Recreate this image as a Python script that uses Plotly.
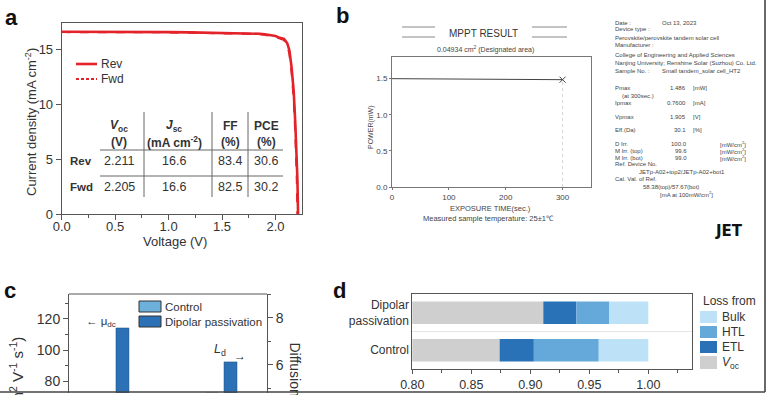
import plotly.graph_objects as go
import numpy as np

W, H = 768, 395
FONT = "Liberation Sans, Arial, sans-serif"


def px(x):
    return x / W


def py(y):
    return 1 - y / H


# ---------------- data ----------------
# (a) J-V curves
jv_voltage_rev = [0, 0.2, 0.4, 0.6, 0.8, 1.0, 1.2, 1.4, 1.6, 1.7, 1.8, 1.85, 1.9, 1.95, 2.0,
                  2.04, 2.08, 2.11, 2.13, 2.15, 2.17, 2.185, 2.197, 2.205, 2.211]
jv_current_rev = [16.60, 16.60, 16.62, 16.60, 16.58, 16.57, 16.55, 16.53, 16.50, 16.48, 16.45,
                  16.42, 16.38, 16.32, 16.22, 16.05, 15.95, 15.55, 14.90, 13.40, 11.20, 8.30,
                  5.60, 3.20, 0.0]
jv_voltage_fwd = [0, 0.2, 0.4, 0.6, 0.8, 1.0, 1.2, 1.4, 1.6, 1.7, 1.8, 1.85, 1.9, 1.95, 2.0,
                  2.04, 2.08, 2.11, 2.13, 2.15, 2.17, 2.185, 2.195, 2.200, 2.205]
jv_current_fwd = [16.58, 16.59, 16.60, 16.59, 16.57, 16.55, 16.53, 16.51, 16.48, 16.45, 16.41,
                  16.38, 16.33, 16.26, 16.15, 15.98, 15.85, 15.40, 14.60, 13.00, 10.60, 7.50,
                  4.90, 3.00, 0.0]
table_header = ["<b><i>V</i></b><b><sub>oc</sub></b>", "<b><i>J</i></b><b><sub>sc</sub></b>",
                "<b>FF</b>", "<b>PCE</b>"]
table_units = ["<b>(V)</b>", "<b>(mA cm<sup>-2</sup>)</b>", "<b>(%)</b>", "<b>(%)</b>"]
table_rows = ["Rev", "Fwd"]
table_rev = ["2.211", "16.6", "83.4", "30.6"]
table_fwd = ["2.205", "16.6", "82.5", "30.2"]

# (b) MPPT
mppt_time = [0, 50, 100, 150, 200, 250, 300]
mppt_power = [1.500, 1.497, 1.494, 1.492, 1.490, 1.488, 1.486]
cert_lines = [
    ("Date :", "Oct 13, 2023"),
    ("Device type :", None),
    ("Perovskite/perovskite tandem solar cell", None),
    ("Manufacturer :", None),
    ("College of Engineering and Applied Sciences", None),
    ("Nanjing University; Renshine Solar (Suzhou) Co. Ltd.", None),
    ("Sample No. :", "Small tandem_solar cell_HT2"),
]
cert_values = [("Pmax", "1.486", "[mW]"), ("Ipmax", "0.7600", "[mA]"),
               ("Vpmax", "1.905", "[V]"), ("Eff.(Da)", "30.1", "[%]")]
cert_irr = [("D Irr.", "100.0"), ("M Irr. (top)", "99.6"), ("M Irr. (bot)", "99.0")]

# (c) mobility / diffusion length
c_categories = ["mu", "Ld"]
mobility_control = [62.0]
mobility_dipolar = [114.2]
diffusion_control = [4.81]
diffusion_dipolar = [6.13]

# (d) QFLS / Voc losses
d_categories = ["Control", "Dipolar<br>passivation"]
voc = [0.874, 0.911]
etl_loss = [0.029, 0.028]
htl_loss = [0.055, 0.028]
bulk_loss = [0.042, 0.033]

# ---------------- styles ----------------
RED = "#e3232a"
C_CTRL = "#6eb0dc"
C_DIP = "#2c70b6"
C_GRAY = "#cfcfcf"
C_ETL = "#2a72b8"
C_HTL = "#64a9d9"
C_BULK = "#bde2f7"
AX = "#555555"
TXT = "#333333"

fig = go.Figure()

# ---- (a)
fig.add_trace(go.Scatter(x=jv_voltage_rev, y=jv_current_rev, mode="lines", name="Rev",
                         line=dict(color=RED, width=2.6), xaxis="x", yaxis="y", showlegend=False))
fig.add_trace(go.Scatter(x=jv_voltage_fwd, y=jv_current_fwd, mode="lines", name="Fwd",
                         line=dict(color=RED, width=2.2, dash="dash"), xaxis="x", yaxis="y",
                         showlegend=False))

# ---- (b)
fig.add_trace(go.Scatter(x=mppt_time, y=mppt_power, mode="lines", line=dict(color="#444", width=1),
                         xaxis="x2", yaxis="y2", showlegend=False))
fig.add_trace(go.Scatter(x=[mppt_time[-1], mppt_time[-1]], y=[0, mppt_power[-1]], mode="lines",
                         line=dict(color="#cccccc", width=0.8, dash="dot"), xaxis="x2", yaxis="y2",
                         showlegend=False))
fig.add_trace(go.Scatter(x=[mppt_time[-1]], y=[mppt_power[-1]], mode="markers",
                         marker=dict(symbol="x-thin", size=6, line=dict(color="#444", width=1)),
                         xaxis="x2", yaxis="y2", showlegend=False))

# ---- (c)
fig.add_trace(go.Bar(x=[c_categories[0]], y=mobility_control, marker=dict(color=C_CTRL, line=dict(color="#2a4f77", width=0.5)),
                     offset=-0.144, width=0.112, xaxis="x3", yaxis="y3", showlegend=False))
fig.add_trace(go.Bar(x=[c_categories[0]], y=mobility_dipolar, marker=dict(color=C_DIP, line=dict(color="#1d4a7c", width=0.5)),
                     offset=0.023, width=0.12, xaxis="x3", yaxis="y3", showlegend=False))
fig.add_trace(go.Bar(x=[c_categories[1]], y=diffusion_control, marker=dict(color=C_CTRL, line=dict(color="#2a4f77", width=0.5)),
                     offset=-0.144, width=0.112, xaxis="x3", yaxis="y4", showlegend=False))
fig.add_trace(go.Bar(x=[c_categories[1]], y=diffusion_dipolar, marker=dict(color=C_DIP, line=dict(color="#1d4a7c", width=0.5)),
                     offset=0.023, width=0.12, xaxis="x3", yaxis="y4", showlegend=False))

# ---- (d) stacked via explicit bases
segments = [("Voc", voc, C_GRAY), ("ETL", etl_loss, C_ETL), ("HTL", htl_loss, C_HTL), ("Bulk", bulk_loss, C_BULK)]
base = np.zeros(len(d_categories))
for name, vals, col in segments:
    vals = np.array(vals)
    fig.add_trace(go.Bar(y=d_categories, x=vals, base=base.copy(), orientation="h", name=name,
                         marker=dict(color=col, line=dict(width=0)), width=0.6,
                         xaxis="x5", yaxis="y5", showlegend=False))
    base = base + vals

ann = []
shapes = []


def text(x, y, s, size=14, xanchor="center", yanchor="middle", color=TXT, angle=0, family=FONT):
    ann.append(dict(x=px(x), y=py(y), xref="paper", yref="paper", text=s, showarrow=False,
                    xanchor=xanchor, yanchor=yanchor, textangle=angle,
                    font=dict(size=size, color=color, family=family)))


def line(x0, y0, x1, y1, color="#555", width=1, dash=None, layer="above"):
    shapes.append(dict(type="line", xref="paper", yref="paper", x0=px(x0), y0=py(y0), x1=px(x1),
                       y1=py(y1), line=dict(color=color, width=width, dash=dash), layer=layer))


def rect(x0, y0, x1, y1, fill, lc=None, lw=0):
    shapes.append(dict(type="rect", xref="paper", yref="paper", x0=px(x0), y0=py(y0), x1=px(x1),
                       y1=py(y1), fillcolor=fill, line=dict(color=lc or fill, width=lw)))


# panel letters
for lab, x, y in [("a", 11, 17), ("b", 342, 16), ("c", 10, 290), ("d", 339, 290)]:
    text(x, y, "<b>" + lab + "</b>", size=22, color="#111")

# (a) titles, legend, table
text(175, 241.5, "Voltage (V)", size=13)
text(31, 122, "Current density (mA cm<sup>-2</sup>)", size=13, angle=-90)
line(76, 64, 97, 64, color=RED, width=2.6)
line(76, 79, 97, 79, color=RED, width=2.2, dash="3px,2px")
text(99, 64, "Rev", size=12, xanchor="left")
text(99, 79, "Fwd", size=12, xanchor="left")
col_x = [119, 174, 230, 266]
for cx, h, u in zip(col_x, table_header, table_units):
    text(cx, 126, h, size=12)
    text(cx, 142, u, size=12)
for ry, rname, vals in zip([161, 187], table_rows, [table_rev, table_fwd]):
    text(81, ry, "<b>" + rname + "</b>", size=11.5)
    for cx, v in zip(col_x, vals):
        text(cx, ry, v, size=12.5)
for hy in [150, 176]:
    line(100, hy, 283, hy, color="#666", width=1)
for vx in [144, 212, 248]:
    line(vx, 112, vx, 197, color="#666", width=1)

# (b) certificate texts
text(483, 33, "MPPT RESULT", size=10, color="#333")
for yy in [27, 37]:
    line(402, yy, 435, yy, color="#888", width=1)
    line(532, yy, 567, yy, color="#888", width=1)
text(485, 49, "0.04934 cm<sup>2</sup> (Designated area)", size=7, color="#444")
text(490, 208, "EXPOSURE TIME(sec.)", size=7.5, color="#444")
text(488, 219, "Measured sample temperature: 25±1℃", size=7.5, color="#444")
text(371, 127, "POWER(mW)", size=7, color="#444", angle=-90)

CS = 6
cy = [23, 29.5, 38, 44.5, 55, 63, 70.5]
for yy, (a1, a2) in zip(cy, cert_lines):
    text(613, yy, a1, size=CS, xanchor="left", color="#444")
    if a2:
        text(660, yy, a2, size=CS, xanchor="left", color="#444")
for yy, (a1, a2, a3) in zip([88, 103, 117, 130], cert_values):
    text(613, yy, a1, size=CS, xanchor="left", color="#444")
    text(688, yy, a2, size=CS, xanchor="right", color="#444")
    text(691, yy, a3, size=CS, xanchor="left", color="#444")
text(620, 96, "(at 300sec.)", size=CS, xanchor="left", color="#444")
for yy, (a1, a2) in zip([144, 151, 157.5], cert_irr):
    text(613, yy, a1, size=CS, xanchor="left", color="#444")
    text(689, yy, a2, size=CS, xanchor="right", color="#444")
    text(718, yy, "[mW/cm<sup>2</sup>]", size=CS, xanchor="left", color="#444")
text(613, 164, "Ref. Device No.", size=CS, xanchor="left", color="#444")
text(637, 171.5, "JETp-A02+top2/JETp-A02+bot1", size=CS, xanchor="left", color="#444")
text(613, 179, "Cal. Val. of Ref.", size=CS, xanchor="left", color="#444")
text(641, 186.5, "58.38(top)/57.67(bot)", size=CS, xanchor="left", color="#444")
text(658, 194, "[mA at 100mW/cm<sup>2</sup>]", size=CS, xanchor="left", color="#444")
text(729, 231, "<b>JET</b>", size=15, color="#111", family="DejaVu Sans, sans-serif")

# (c) legend & annotations
rect(139, 301, 161, 312, C_CTRL, "#333", 1)
rect(139, 316, 161, 327, C_DIP, "#333", 1)
text(163, 306.5, "Control", size=11.5, xanchor="left")
text(163, 321.5, "Dipolar passivation", size=11.5, xanchor="left")
text(101, 322, "← μ<sub>dc</sub>", size=11.5)
text(220, 350, "<i>L</i><sub>d</sub>", size=12.5)
text(240, 356, "→", size=12)
text(17, 335, "μ<sub>dc</sub> (cm<sup>2</sup> V<sup>-1</sup> s<sup>-1</sup>)", size=15, angle=-90, yanchor="top")
text(295, 340, "Diffusion length (μm)", size=14, angle=90, yanchor="top")
shapes.append(dict(type="line", xref="x3 domain", yref="y3 domain", x0=0, x1=1, y0=1, y1=1,
                   line=dict(color=AX, width=1)))

# (d) legend & annotations
text(701, 301, "Loss from", size=12, xanchor="left")
for (y0, y1), lab, col in zip([(311, 323), (326, 338), (341, 353), (356, 369)],
                              ["Bulk", "HTL", "ETL", "<i>V</i><sub>oc</sub>"],
                              [C_BULK, C_HTL, C_ETL, C_GRAY]):
    rect(700, y0, 717, y1, col)
    text(720, (y0 + y1) / 2, lab, size=12, xanchor="left")
shapes.append(dict(type="line", xref="x5 domain", yref="y5", x0=0, x1=1, y0=0.5, y1=0.5,
                   line=dict(color="#e6e6e6", width=1), layer="below"))
text(553, 390.5, "QFLS or <i>V</i><sub>oc</sub> (eV)", size=14, yanchor="top")

# frame
line(765, 0, 765, 392, color="#444", width=1.6)
line(0, 392, 765, 392, color="#444", width=1.6)
rect(766, 0, 768, 395, "white")
rect(0, 393, 768, 395, "white")

common = dict(showgrid=False, zeroline=False, automargin=False)
fig.update_layout(
    width=W, height=H, margin=dict(l=0, r=0, t=0, b=0, autoexpand=False),
    paper_bgcolor="white", plot_bgcolor="rgba(0,0,0,0)",
    font=dict(family=FONT, color=TXT),
    barmode="overlay",
    xaxis=dict(domain=[px(61.7), px(301.7)], range=[0, 2.245], tickvals=[0, 0.5, 1.0, 1.5, 2.0],
               tickformat=".1f", ticks="outside", ticklen=5, tickcolor=AX, showline=True,
               mirror=True, linecolor=AX, linewidth=1, tickfont=dict(size=13, color=TXT),
               ticklabelstandoff=-5,
               minor=dict(dtick=0.25, ticks="outside", ticklen=3, tickcolor=AX), anchor="y", **common),
    yaxis=dict(domain=[py(214.3), py(23)], range=[0, 17.4], tickvals=[0, 5, 10, 15], ticks="outside",
               ticklen=5, tickcolor=AX, showline=True, mirror=True, linecolor=AX, linewidth=1,
               tickfont=dict(size=13, color=TXT), anchor="x", **common),
    xaxis2=dict(domain=[px(392), px(591)], range=[0, 350], tickvals=[0, 100, 200, 300],
                ticks="outside", ticklen=2, tickcolor="#777", showline=True, mirror=True,
                linecolor="#777", linewidth=1, tickfont=dict(size=8, color="#444"), anchor="y2", **common),
    yaxis2=dict(domain=[py(187), py(57)], range=[0, 1.8], tickvals=[0, 0.5, 1.0, 1.5], tickformat=".1f",
                ticks="outside", ticklen=2, tickcolor="#777", showline=True, mirror=True,
                linecolor="#777", linewidth=1, tickfont=dict(size=8, color="#444"), anchor="x2", **common),
    xaxis3=dict(domain=[px(69), px(267)], type="category", categoryorder="array",
                categoryarray=c_categories, range=[-0.412, 1.421], showticklabels=False, ticks="",
                showline=False, anchor="y3", **common),
    yaxis3=dict(domain=[0, py(294)], range=[71, 136.1], tickvals=[80, 100, 120], ticks="outside",
                ticklen=5, tickcolor=AX, showline=True, linecolor=AX, linewidth=1,
                tickfont=dict(size=14, color=TXT), minor=dict(dtick=10, ticks="outside", ticklen=3, tickcolor=AX),
                anchor="x3", **common),
    yaxis4=dict(overlaying="y3", side="right", anchor="x3", range=[4.72, 9.02], tickvals=[6, 8],
                ticks="outside", ticklen=5, tickcolor=AX, showline=True, linecolor=AX, linewidth=1,
                tickfont=dict(size=14, color=TXT), minor=dict(dtick=1, ticks="outside", ticklen=3, tickcolor=AX),
                **common),
    xaxis5=dict(domain=[px(412.3), px(692)], range=[0.8, 1.037], tickvals=[0.80, 0.85, 0.90, 0.95, 1.00],
                tickformat=".2f", ticks="outside", ticklen=4, tickcolor=AX, showline=True, mirror=True,
                linecolor=AX, linewidth=1, tickfont=dict(size=12.5, color=TXT),
                minor=dict(dtick=0.025, ticks="outside", ticklen=3, tickcolor=AX), anchor="y5", **common),
    yaxis5=dict(domain=[py(369), py(294)], type="category", categoryorder="array",
                categoryarray=d_categories, range=[-0.5, 1.5], ticks="", showline=True, mirror=True,
                linecolor=AX, linewidth=1, tickfont=dict(size=12, color=TXT), anchor="x5", **common),
    annotations=ann,
    shapes=shapes,
)

fig.write_html("out.html", config={"displayModeBar": False},
               post_script="document.body.style.margin='0px';")
